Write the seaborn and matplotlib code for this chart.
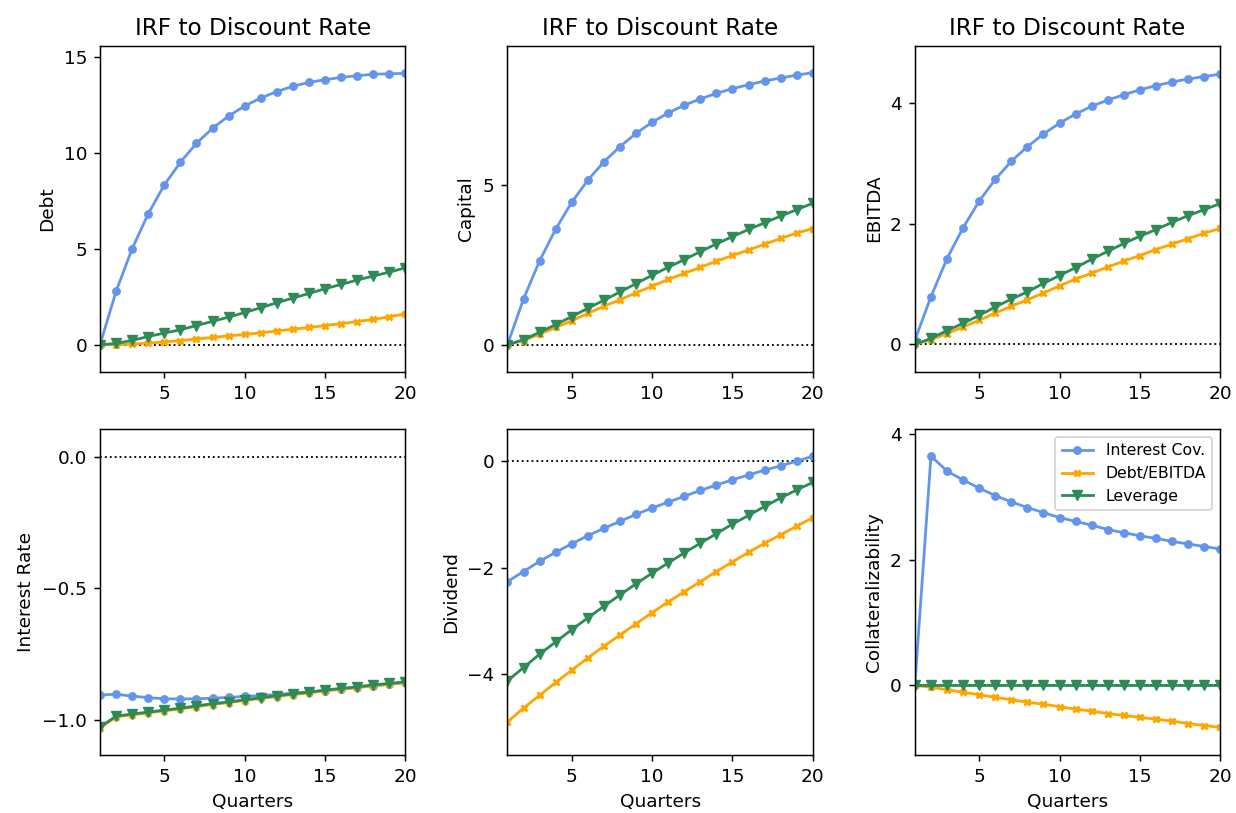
import matplotlib
matplotlib.use("Agg")
import matplotlib.pyplot as plt
import seaborn as sns
import numpy as np

quarters = list(range(1, 21))
series_names = ["Interest Cov.", "Debt/EBITDA", "Leverage"]
colors = ["cornflowerblue", "orange", "seagreen"]
markers = ["o", "x", "v"]
msizes = [4, 3.5, 5]

debt_ic = [0, 2.78, 5.0, 6.82, 8.32, 9.5, 10.49, 11.27, 11.91, 12.43, 12.85, 13.18, 13.46, 13.66, 13.8, 13.92, 14.01, 14.08, 14.11, 14.13]
debt_de = [0, 0.01, 0.04, 0.09, 0.14, 0.22, 0.3, 0.38, 0.46, 0.54, 0.62, 0.72, 0.81, 0.9, 1.0, 1.1, 1.21, 1.32, 1.46, 1.61]
debt_lev = [0, 0.07, 0.23, 0.43, 0.61, 0.78, 1.0, 1.22, 1.44, 1.68, 1.93, 2.19, 2.43, 2.67, 2.92, 3.14, 3.37, 3.58, 3.78, 4.01]

cap_ic = [0, 1.43, 2.62, 3.61, 4.45, 5.14, 5.71, 6.19, 6.6, 6.95, 7.24, 7.48, 7.68, 7.85, 8.0, 8.12, 8.24, 8.33, 8.42, 8.5]
cap_de = [0, 0.13, 0.33, 0.54, 0.75, 0.98, 1.2, 1.41, 1.62, 1.83, 2.04, 2.23, 2.42, 2.61, 2.79, 2.96, 3.14, 3.32, 3.49, 3.63]
cap_lev = [0, 0.16, 0.39, 0.63, 0.88, 1.14, 1.39, 1.65, 1.91, 2.17, 2.42, 2.66, 2.91, 3.15, 3.38, 3.6, 3.81, 4.02, 4.22, 4.42]

ebitda_ic = [0.07, 0.79, 1.42, 1.93, 2.37, 2.73, 3.03, 3.27, 3.48, 3.66, 3.81, 3.94, 4.04, 4.13, 4.21, 4.28, 4.34, 4.39, 4.43, 4.47]
ebitda_de = [0, 0.08, 0.18, 0.29, 0.4, 0.52, 0.63, 0.74, 0.85, 0.97, 1.08, 1.18, 1.28, 1.38, 1.47, 1.57, 1.66, 1.75, 1.84, 1.92]
ebitda_lev = [0, 0.1, 0.23, 0.35, 0.48, 0.62, 0.75, 0.87, 1.01, 1.14, 1.27, 1.41, 1.54, 1.67, 1.79, 1.9, 2.02, 2.13, 2.23, 2.33]

rate_ic = [-0.905, -0.902, -0.909, -0.915, -0.919, -0.92, -0.919, -0.917, -0.914, -0.91, -0.907, -0.903, -0.898, -0.893, -0.888, -0.881, -0.876, -0.87, -0.864, -0.856]
rate_de = [-1.03, -0.988, -0.98, -0.973, -0.965, -0.958, -0.949, -0.941, -0.934, -0.926, -0.918, -0.911, -0.903, -0.897, -0.889, -0.883, -0.877, -0.869, -0.864, -0.858]
rate_lev = [-1.027, -0.985, -0.977, -0.97, -0.962, -0.955, -0.946, -0.938, -0.931, -0.923, -0.915, -0.908, -0.9, -0.894, -0.886, -0.88, -0.874, -0.866, -0.861, -0.855]

div_ic = [-2.26, -2.07, -1.88, -1.71, -1.55, -1.4, -1.26, -1.13, -1.0, -0.88, -0.77, -0.66, -0.55, -0.45, -0.35, -0.26, -0.17, -0.09, 0.0, 0.09]
div_de = [-4.89, -4.63, -4.39, -4.15, -3.92, -3.69, -3.47, -3.26, -3.05, -2.84, -2.64, -2.45, -2.26, -2.07, -1.89, -1.71, -1.54, -1.38, -1.22, -1.06]
div_lev = [-4.12, -3.87, -3.62, -3.39, -3.16, -2.94, -2.72, -2.51, -2.3, -2.1, -1.91, -1.72, -1.54, -1.36, -1.18, -1.02, -0.85, -0.69, -0.54, -0.4]

col_ic = [0, 3.65, 3.41, 3.27, 3.14, 3.02, 2.92, 2.83, 2.75, 2.67, 2.61, 2.55, 2.48, 2.43, 2.38, 2.34, 2.29, 2.25, 2.21, 2.17]
col_de = [0, -0.03, -0.07, -0.11, -0.15, -0.19, -0.23, -0.27, -0.3, -0.34, -0.38, -0.41, -0.45, -0.48, -0.51, -0.54, -0.57, -0.61, -0.64, -0.67]
col_lev = [0] * 20

panels = [
    ("Debt", [debt_ic, debt_de, debt_lev], (-1.4, 15.57), [0, 5, 10, 15]),
    ("Capital", [cap_ic, cap_de, cap_lev], (-0.84, 9.34), [0, 5]),
    ("EBITDA", [ebitda_ic, ebitda_de, ebitda_lev], (-0.45, 4.94), [0, 2, 4]),
    ("Interest Rate", [rate_ic, rate_de, rate_lev], (-1.133, 0.106), [0.0, -0.5, -1.0]),
    ("Dividend", [div_ic, div_de, div_lev], (-5.51, 0.6), [0, -2, -4]),
    ("Collateralizability", [col_ic, col_de, col_lev], (-1.11, 4.08), [0, 2, 4]),
]

dpi = 133.33
fig, axes = plt.subplots(2, 3, figsize=(1236 / dpi, 813 / dpi), dpi=dpi)
fig.subplots_adjust(left=0.0809, right=0.9873, top=0.9438, bottom=0.0713, wspace=0.334, hspace=0.176)

for i, (ax, (ylabel, data, ylim, yticks)) in enumerate(zip(axes.flat, panels)):
    ax.axhline(0, color="black", linestyle=":", linewidth=1, zorder=1)
    for name, vals, c, m, ms in zip(series_names, data, colors, markers, msizes):
        sns.lineplot(x=quarters, y=vals, ax=ax, color=c, marker=m, markersize=ms,
                     markeredgecolor=c, markeredgewidth=1.6 if m == "x" else 0.75,
                     linewidth=1.5, label=name, legend=False, zorder=2)
    ax.set_xlim(1, 20)
    ax.set_ylim(*ylim)
    ax.set_xticks([5, 10, 15, 20])
    ax.set_yticks(yticks)
    ax.set_ylabel(ylabel)
    if i < 3:
        ax.set_title("IRF to Discount Rate", fontsize=12.6)
        ax.set_xlabel("")
    else:
        ax.set_xlabel("Quarters")

axes[1, 2].legend(loc="upper right", fontsize=8.5)

fig.savefig("out.png", dpi=dpi)
